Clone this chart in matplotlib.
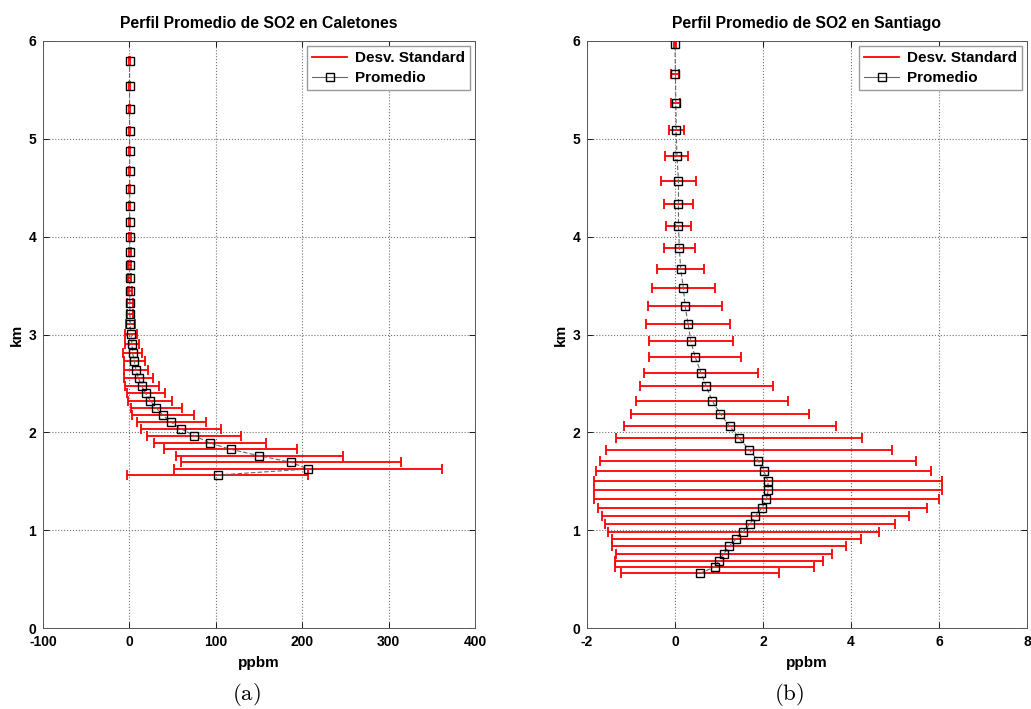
import numpy as np
import matplotlib
matplotlib.use('Agg')
import matplotlib.pyplot as plt
from matplotlib.lines import Line2D

plt.rcParams['font.family'] = 'Liberation Sans'
plt.rcParams['font.weight'] = 'bold'
plt.rcParams['mathtext.fontset'] = 'cm'
plt.rcParams['axes.unicode_minus'] = False

# Caletones: altura [km], promedio y desv. standard [ppbm]
alt_cal = [1.564, 1.625, 1.694, 1.761, 1.827, 1.891, 1.966, 2.034, 2.103, 2.174, 2.249, 2.323,
           2.399, 2.474, 2.552, 2.637, 2.726, 2.814, 2.906, 3.002, 3.104, 3.21, 3.325, 3.448,
           3.575, 3.707, 3.846, 3.994, 4.147, 4.317, 4.487, 4.675, 4.873, 5.083, 5.305, 5.543, 5.796]
mean_cal = [102.1, 206.7, 187.0, 150.3, 117.1, 93.3, 75.1, 60.1, 48.5, 38.9, 31.1, 24.2,
            18.8, 14.1, 10.6, 7.6, 5.7, 3.7, 3.0, 1.9, 1.0, 0.7, 0.6, 0.5,
            0.5, 0.4, 0.4, 0.4, 0.3, 0.3, 0.3, 0.3, 0.3, 0.2, 0.2, 0.2, 0.2]
std_cal = [104.6, 155.0, 127.7, 96.9, 76.9, 64.3, 54.4, 46.3, 40.2, 35.4, 29.8, 25.5,
           21.9, 19.7, 16.3, 13.9, 11.9, 10.9, 8.5, 6.9, 5.0, 4.0, 3.0, 2.2,
           1.8, 1.5, 1.2, 1.0, 0.9, 0.8, 0.7, 0.6, 0.6, 0.5, 0.5, 0.4, 0.4]

# Santiago
alt_stg = [0.56, 0.624, 0.69, 0.76, 0.835, 0.91, 0.985, 1.063, 1.145, 1.23, 1.32, 1.41,
           1.505, 1.605, 1.71, 1.82, 1.94, 2.06, 2.19, 2.32, 2.47, 2.61, 2.77, 2.93,
           3.11, 3.29, 3.48, 3.67, 3.88, 4.11, 4.33, 4.57, 4.82, 5.09, 5.37, 5.66, 5.97]
mean_stg = [0.57, 0.90, 1.0, 1.11, 1.23, 1.39, 1.55, 1.70, 1.83, 1.98, 2.08, 2.12,
            2.11, 2.02, 1.89, 1.69, 1.46, 1.25, 1.03, 0.85, 0.71, 0.59, 0.46, 0.36,
            0.30, 0.23, 0.19, 0.13, 0.10, 0.08, 0.08, 0.08, 0.045, 0.03, 0.02, 0.01, 0.0]
std_stg = [1.79, 2.26, 2.36, 2.46, 2.66, 2.83, 3.08, 3.29, 3.49, 3.74, 3.91, 3.96,
           3.95, 3.81, 3.59, 3.25, 2.80, 2.41, 2.02, 1.73, 1.51, 1.30, 1.04, 0.95,
           0.96, 0.85, 0.72, 0.53, 0.36, 0.29, 0.33, 0.40, 0.26, 0.17, 0.10, 0.09, 0.03]

yticks = [0, 1, 2, 3, 4, 5, 6]
xticks_cal = [-100, 0, 100, 200, 300, 400]
xticks_stg = [-2, 0, 2, 4, 6, 8]

fig = plt.figure(figsize=(10.31, 7.09), dpi=100)
ax = fig.add_axes([0.0417, 0.1142, 0.419, 0.828])
ax1 = fig.add_axes([0.5693, 0.1142, 0.4268, 0.828])


def perfil(ax, mean, std, alt, xticks, title):
    ax.errorbar(mean, alt, xerr=std, fmt='none', ecolor='r', elinewidth=1.3,
                capsize=3.6, capthick=1.3, zorder=3)
    ax.plot(mean, alt, ls=(0, (4, 2)), color='0.4', lw=0.8, marker='s', ms=6,
            mfc='none', mec='k', mew=1.0, zorder=4)
    ax.set_xlim(xticks[0], xticks[-1])
    ax.set_ylim(0, 6)
    ax.set_xticks(xticks)
    ax.set_yticks(yticks)
    ax.grid(True, ls=':', color='0.45', lw=0.8)
    ax.set_axisbelow(True)
    ax.tick_params(direction='in', top=True, right=True, length=4, width=0.6,
                   labelsize=10, pad=5)
    for s in ax.spines.values():
        s.set_color('0.35')
        s.set_linewidth(0.7)
    ax.set_xlabel('ppbm', fontsize=11, fontweight='bold', labelpad=5)
    ax.set_ylabel('km', fontsize=11, fontweight='bold', labelpad=3)
    ax.set_title(title, fontsize=11.3, fontweight='bold', pad=9)
    handles = [Line2D([], [], color='r', lw=1.3),
               Line2D([], [], color='0.4', lw=0.8, marker='s', ms=6, mfc='none', mec='k')]
    leg = ax.legend(handles, ['Desv. Standard', 'Promedio'], loc='upper right',
                    fontsize=11, fancybox=False, framealpha=1, edgecolor='0.6',
                    borderaxespad=0.3, handlelength=2.3, handletextpad=0.5,
                    borderpad=0.35, labelspacing=0.4)
    leg.get_frame().set_linewidth(1.0)


perfil(ax, mean_cal, std_cal, alt_cal, xticks_cal, 'Perfil Promedio de SO2 en Caletones')
perfil(ax1, mean_stg, std_stg, alt_stg, xticks_stg, 'Perfil Promedio de SO2 en Santiago')

fig.text(246 / 1031, 1 - 694 / 709, r'$(\mathrm{a})$', fontsize=16.5, ha='center', va='center')
fig.text(789 / 1031, 1 - 694 / 709, r'$(\mathrm{b})$', fontsize=16.5, ha='center', va='center')

fig.savefig('out.png', dpi=100)
